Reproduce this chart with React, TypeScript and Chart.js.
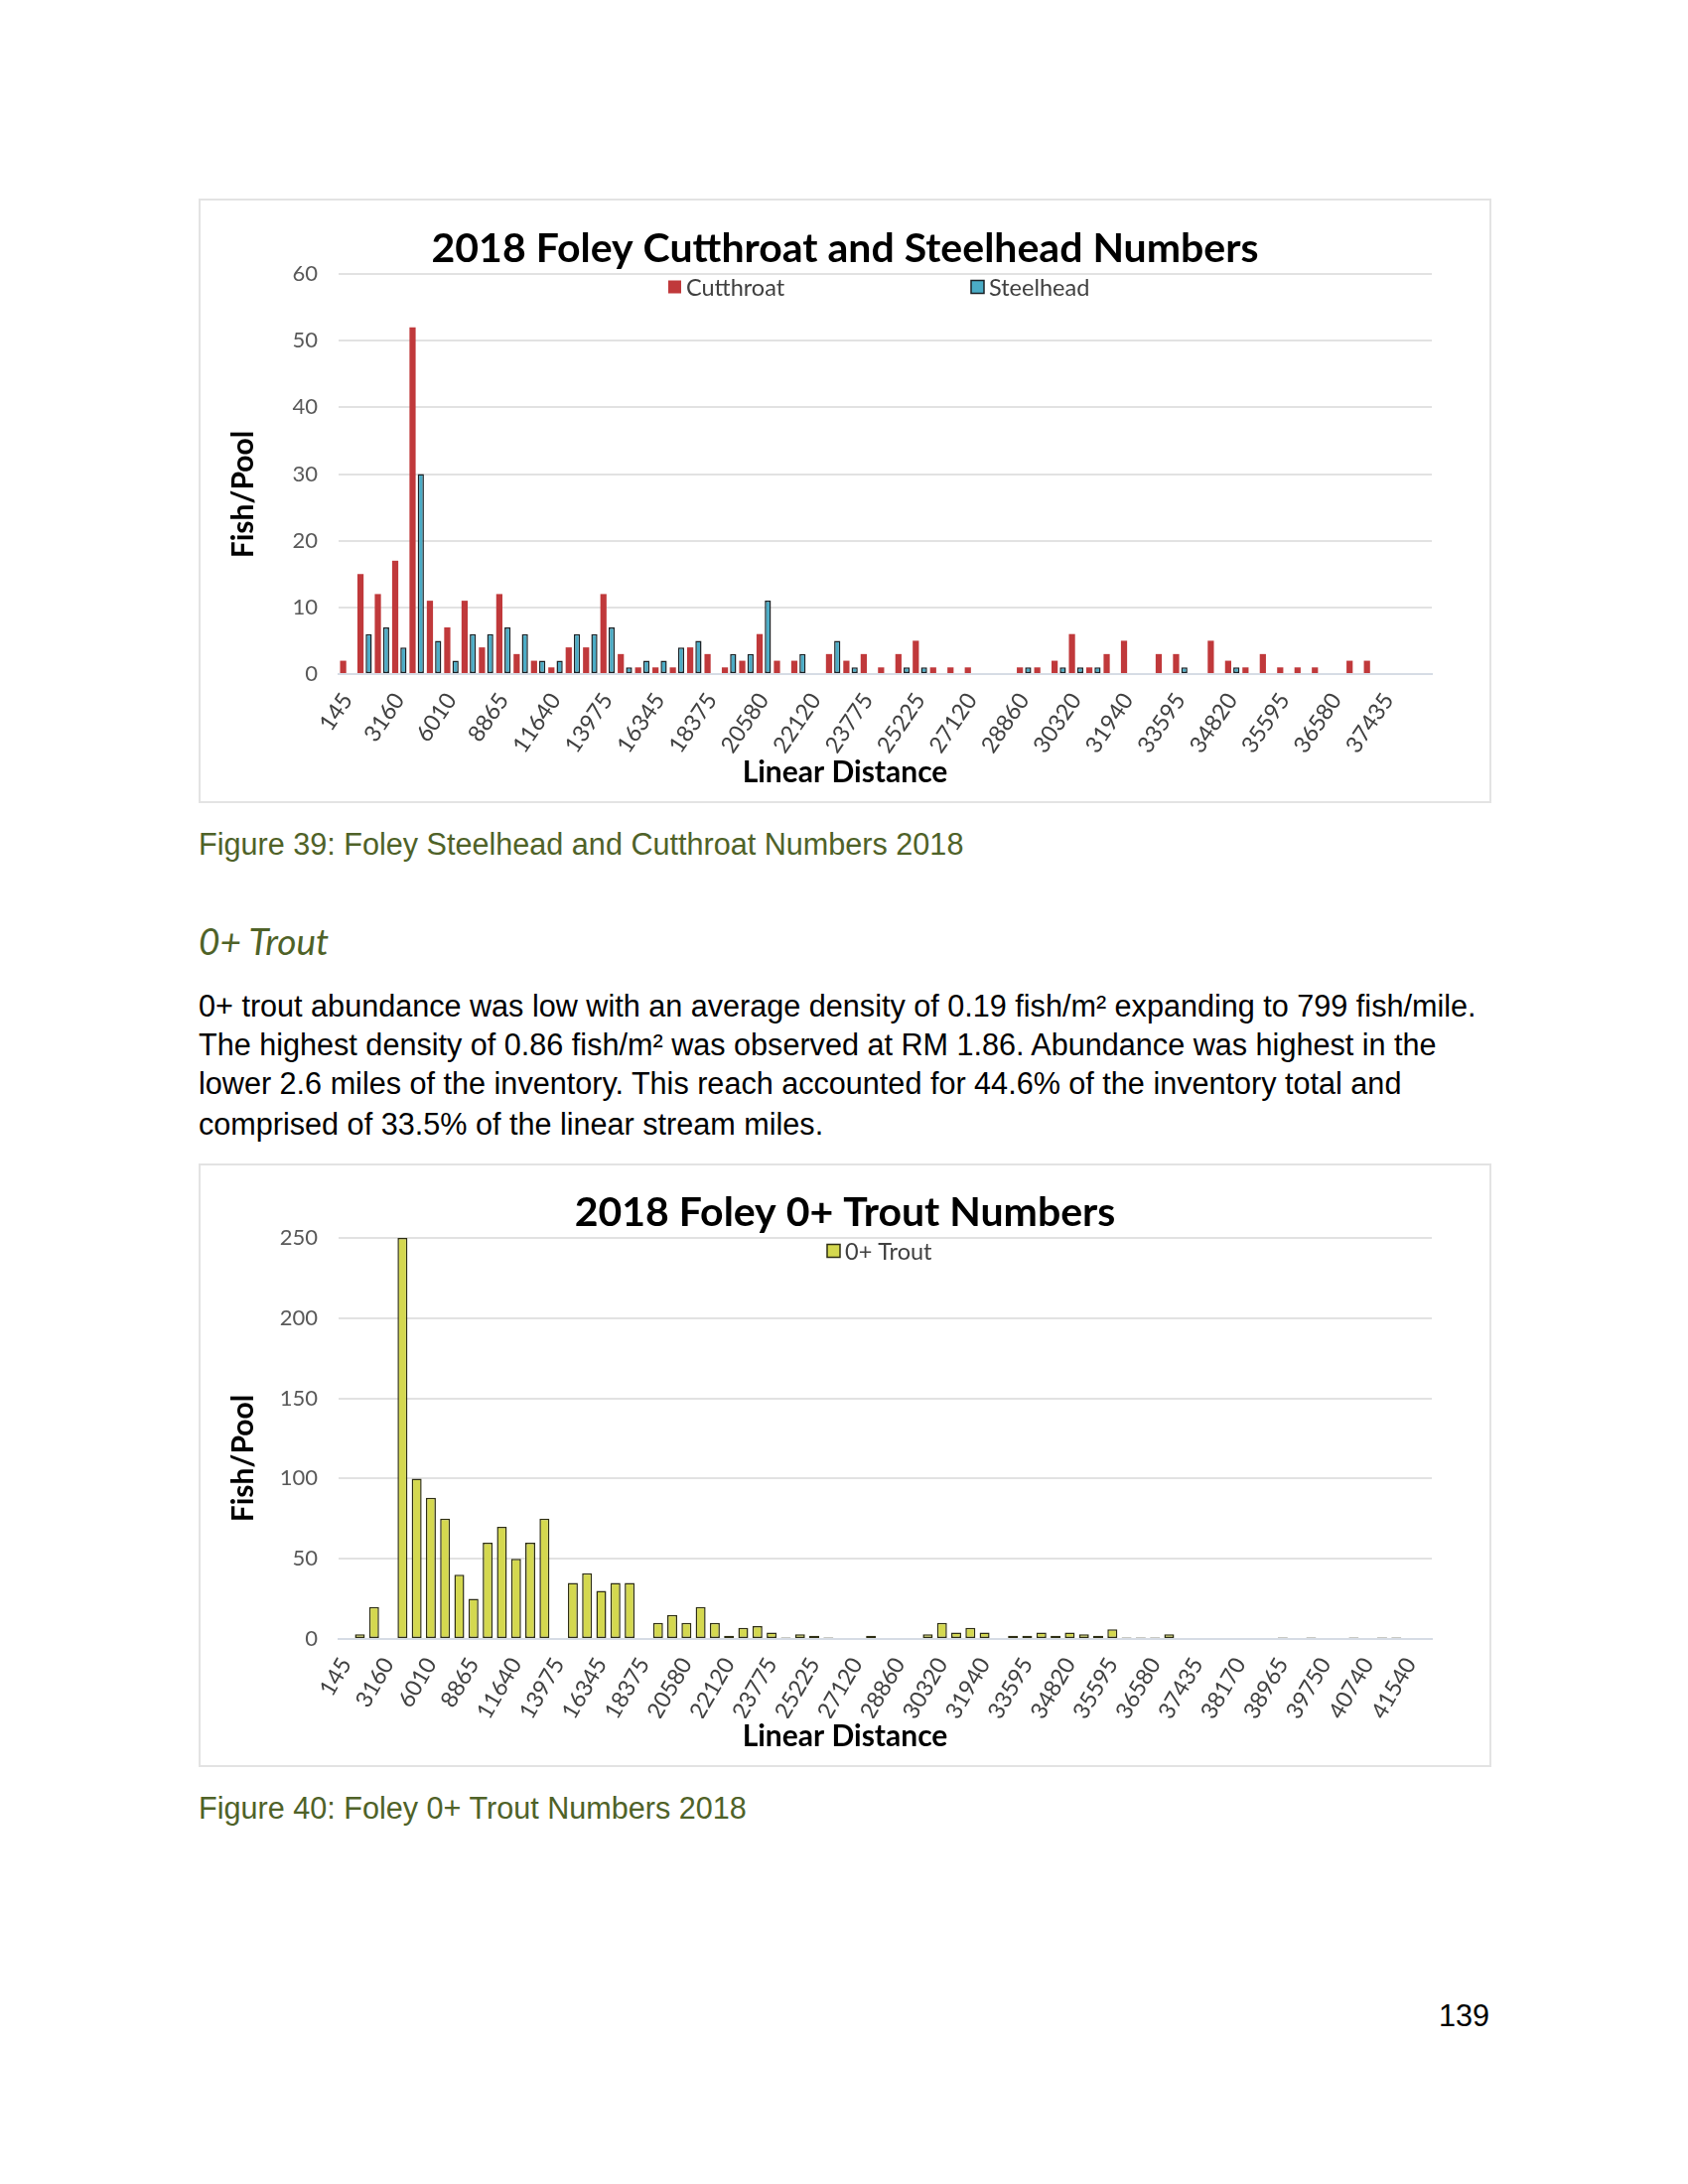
import React, { useEffect, useRef } from 'react';
import { Chart, registerables } from 'chart.js';

Chart.register(...registerables);

// Visible x-axis tick labels (every third pool)
const distanceTicks = [
  '145', '3160', '6010', '8865', '11640', '13975', '16345', '18375', '20580', '22120',
  '23775', '25225', '27120', '28860', '30320', '31940', '33595', '34820', '35595', '36580',
  '37435', '38170', '38965', '39750', '40740', '41540',
];

// Figure 39 series (fish per pool)
const cutthroat = [
  2, 15, 12, 17, 52, 11, 7, 11, 4, 12, 3, 2, 1, 4, 4, 12, 3, 1, 1, 1,
  4, 3, 1, 2, 6, 2, 2, 0, 3, 2, 3, 1, 3, 5, 1, 1, 1, 0, 0, 1,
  1, 2, 6, 1, 3, 5, 0, 3, 3, 0, 5, 2, 1, 3, 1, 1, 1, 0, 2, 2,
  0, 0, 0,
];
const steelhead = [
  0, 6, 7, 4, 30, 5, 2, 6, 6, 7, 6, 2, 2, 6, 6, 7, 1, 2, 2, 4,
  5, 0, 3, 3, 11, 0, 3, 0, 5, 1, 0, 0, 1, 1, 0, 0, 0, 0, 0, 1,
  0, 1, 1, 1, 0, 0, 0, 0, 1, 0, 0, 1, 0, 0, 0, 0, 0, 0, 0, 0,
  0, 0, 0,
];

// Figure 40 series (fish per pool)
const troutZeroPlus = [
  0, 3, 20, 0, 250, 100, 88, 75, 40, 25, 60, 70, 50, 60, 75, 0, 35, 41, 30, 35,
  35, 0, 10, 15, 10, 20, 10, 2, 7, 8, 4, 1, 3, 2, 1, 0, 0, 2, 0, 0,
  0, 3, 10, 4, 7, 4, 0, 2, 2, 4, 2, 4, 3, 2, 6, 1, 1, 1, 3, 0,
  0, 0, 0, 0, 0, 0, 1, 0, 1, 0, 0, 1, 0, 1, 1, 0, 0,
];

const chart1Title = '2018 Foley Cutthroat and Steelhead Numbers';
const chart2Title = '2018 Foley 0+ Trout Numbers';
const xAxisTitle = 'Linear Distance';
const yAxisTitle = 'Fish/Pool';

const CAPTION_GREEN = '#4F6228';
const CHART_FONT = 'Lato';
const TITLE_SIZE = 41;
const AXIS_TITLE_SIZE = 30;

function categoryLabels(n: number): string[] {
  return Array.from({ length: n }, (_, i) =>
    i % 3 === 0 && distanceTicks[i / 3] ? distanceTicks[i / 3] : ''
  );
}

type LegendPos = { datasetIndex: number; x: number; y: number };

function makeOverlay(legend: LegendPos[], yTitle: { x: number; y: number }) {
  return {
    id: 'overlayText',
    afterDraw(chart: any) {
      const ctx = chart.ctx as CanvasRenderingContext2D;
      ctx.save();
      ctx.textBaseline = 'middle';
      ctx.textAlign = 'left';
      ctx.font = `23.5px ${CHART_FONT}`;
      legend.forEach((item) => {
        const ds = chart.data.datasets[item.datasetIndex];
        const s = 13;
        ctx.fillStyle = ds.backgroundColor;
        ctx.fillRect(item.x, item.y - s / 2, s, s);
        if (ds.borderWidth) {
          ctx.lineWidth = 1.5;
          ctx.strokeStyle = ds.borderColor;
          ctx.strokeRect(item.x, item.y - s / 2, s, s);
        }
        ctx.fillStyle = '#404040';
        ctx.fillText(ds.label, item.x + s + 5, item.y + 1);
      });
      ctx.translate(yTitle.x, yTitle.y);
      ctx.rotate(-Math.PI / 2);
      ctx.textAlign = 'center';
      ctx.font = `bold ${AXIS_TITLE_SIZE}px ${CHART_FONT}`;
      ctx.fillStyle = '#000';
      ctx.fillText(yAxisTitle, 0, 0);
      ctx.restore();
    },
  };
}

type Opts = {
  title: string;
  yMax: number;
  yStep: number;
  rotation: number;
  canvasH: number;
  titleCenter: number;
  chartTop: number;
  subCenter: number;
  chartBottom: number;
};

function buildOptions(o: Opts): any {
  const titleLH = TITLE_SIZE * 1.2;
  const titlePadTop = o.titleCenter - titleLH / 2;
  const titlePadBottom = Math.max(0, o.chartTop - titlePadTop - titleLH);
  const subLH = AXIS_TITLE_SIZE * 1.2;
  const subPadBottom = o.canvasH - o.subCenter - subLH / 2;
  const subtitleH = subLH + subPadBottom;
  const xScaleH = o.canvasH - subtitleH - o.chartBottom;
  return {
    responsive: false,
    animation: false,
    devicePixelRatio: 1,
    layout: { padding: 0 },
    plugins: {
      legend: { display: false },
      tooltip: { enabled: false },
      title: {
        display: true,
        text: o.title,
        color: '#000',
        font: { family: CHART_FONT, size: TITLE_SIZE, weight: 'bold' },
        padding: { top: titlePadTop, bottom: titlePadBottom },
      },
      subtitle: {
        display: true,
        position: 'bottom',
        text: xAxisTitle,
        color: '#000',
        font: { family: CHART_FONT, size: AXIS_TITLE_SIZE, weight: 'bold' },
        padding: { top: 0, bottom: subPadBottom },
      },
    },
    scales: {
      x: {
        grid: { display: false },
        border: { display: true, color: '#D6DCE5', width: 2 },
        ticks: {
          autoSkip: false,
          minRotation: o.rotation,
          maxRotation: o.rotation,
          color: '#404040',
          font: { family: CHART_FONT, size: 23 },
          padding: 6,
        },
        afterFit: (s: any) => {
          s.height = xScaleH;
        },
      },
      y: {
        min: 0,
        max: o.yMax,
        ticks: {
          stepSize: o.yStep,
          color: '#595959',
          font: { family: CHART_FONT, size: 22 },
          padding: 21,
        },
        grid: { color: '#E2E2E2', lineWidth: 2, drawTicks: false },
        border: { display: false },
        afterFit: (s: any) => {
          s.width = 140;
        },
      },
      yRight: {
        position: 'right',
        grid: { display: false },
        border: { display: false },
        ticks: { display: false },
        afterFit: (s: any) => {
          s.width = 59;
        },
      },
    },
  };
}

function CutthroatSteelheadChart() {
  const ref = useRef<HTMLCanvasElement | null>(null);
  useEffect(() => {
    if (!ref.current) return;
    const chart = new Chart(ref.current, {
      type: 'bar',
      data: {
        labels: categoryLabels(cutthroat.length),
        datasets: [
          {
            label: 'Cutthroat',
            data: cutthroat,
            yAxisID: 'y',
            backgroundColor: '#C0393B',
            borderWidth: 0,
            categoryPercentage: 0.95,
            barPercentage: 0.75,
          },
          {
            label: 'Steelhead',
            data: steelhead,
            yAxisID: 'y',
            backgroundColor: '#4BACC6',
            borderColor: '#1B2226',
            borderWidth: 1.5,
            borderSkipped: false,
            categoryPercentage: 0.95,
            barPercentage: 0.75,
          },
        ],
      } as any,
      options: buildOptions({
        title: chart1Title,
        yMax: 60,
        yStep: 10,
        rotation: 56,
        canvasH: 607,
        titleCenter: 50,
        chartTop: 75,
        subCenter: 577,
        chartBottom: 478,
      }),
      plugins: [
        makeOverlay(
          [
            { datasetIndex: 0, x: 472, y: 88 },
            { datasetIndex: 1, x: 777, y: 88 },
          ],
          { x: 44, y: 297 }
        ),
      ],
    });
    return () => chart.destroy();
  }, []);
  return (
    <canvas
      ref={ref}
      width={1300}
      height={607}
      style={{ position: 'absolute', left: 201, top: 201, width: 1300, height: 607 }}
    />
  );
}

function TroutChart() {
  const ref = useRef<HTMLCanvasElement | null>(null);
  useEffect(() => {
    if (!ref.current) return;
    const chart = new Chart(ref.current, {
      type: 'bar',
      data: {
        labels: categoryLabels(troutZeroPlus.length),
        datasets: [
          {
            label: '0+ Trout',
            data: troutZeroPlus,
            yAxisID: 'y',
            backgroundColor: '#D4D84F',
            borderColor: '#2E2E14',
            borderWidth: 1.5,
            borderSkipped: false,
            categoryPercentage: 1,
            barPercentage: 0.7,
          },
        ],
      } as any,
      options: buildOptions({
        title: chart2Title,
        yMax: 250,
        yStep: 50,
        rotation: 60,
        canvasH: 605,
        titleCenter: 49,
        chartTop: 74,
        subCenter: 576,
        chartBottom: 478,
      }),
      plugins: [makeOverlay([{ datasetIndex: 0, x: 632, y: 87 }], { x: 44, y: 296 })],
    });
    return () => chart.destroy();
  }, []);
  return (
    <canvas
      ref={ref}
      width={1300}
      height={605}
      style={{ position: 'absolute', left: 201, top: 1173, width: 1300, height: 605 }}
    />
  );
}

const bodyFont = '"Liberation Sans", Arial, sans-serif';
const BODY_SIZE = 30.6;

function TextLine(props: {
  text: string;
  left?: number;
  right?: number;
  centerY: number;
  size: number;
  color?: string;
  italic?: boolean;
  family?: string;
}) {
  const lh = Math.round(props.size * 1.3);
  const style: React.CSSProperties = {
    position: 'absolute',
    top: props.centerY - lh / 2,
    height: lh,
    lineHeight: `${lh}px`,
    fontSize: props.size,
    fontFamily: props.family || bodyFont,
    fontStyle: props.italic ? 'italic' : 'normal',
    color: props.color || '#000',
    whiteSpace: 'nowrap',
  };
  if (props.left !== undefined) style.left = props.left;
  if (props.right !== undefined) style.right = props.right;
  return <div style={style}>{props.text}</div>;
}

const frameStyle = (top: number, height: number): React.CSSProperties => ({
  position: 'absolute',
  left: 200,
  top,
  width: 1302,
  height,
  border: '2px solid #E3E3E3',
  boxSizing: 'border-box',
});

export default function App() {
  return (
    <div
      style={{
        position: 'absolute',
        left: 0,
        top: 0,
        width: 1700,
        height: 2200,
        background: '#fff',
        overflow: 'hidden',
      }}
    >
      <div style={frameStyle(200, 609)} />
      <CutthroatSteelheadChart />
      <TextLine text="Figure 39: Foley Steelhead and Cutthroat Numbers 2018" left={200} centerY={850} size={BODY_SIZE} color={CAPTION_GREEN} />
      <TextLine text="0+ Trout" left={200} centerY={948} size={37} color={CAPTION_GREEN} italic family="Lato, sans-serif" />
      <TextLine text="0+ trout abundance was low with an average density of 0.19 fish/m² expanding to 799 fish/mile." left={200} centerY={1013} size={BODY_SIZE} />
      <TextLine text="The highest density of 0.86 fish/m² was observed at RM 1.86. Abundance was highest in the" left={200} centerY={1052} size={BODY_SIZE} />
      <TextLine text="lower 2.6 miles of the inventory. This reach accounted for 44.6% of the inventory total and" left={200} centerY={1091} size={BODY_SIZE} />
      <TextLine text="comprised of 33.5% of the linear stream miles." left={200} centerY={1132} size={BODY_SIZE} />
      <div style={frameStyle(1172, 608)} />
      <TroutChart />
      <TextLine text="Figure 40: Foley 0+ Trout Numbers 2018" left={200} centerY={1821} size={BODY_SIZE} color={CAPTION_GREEN} />
      <TextLine text="139" right={200} centerY={2030} size={BODY_SIZE} />
    </div>
  );
}
